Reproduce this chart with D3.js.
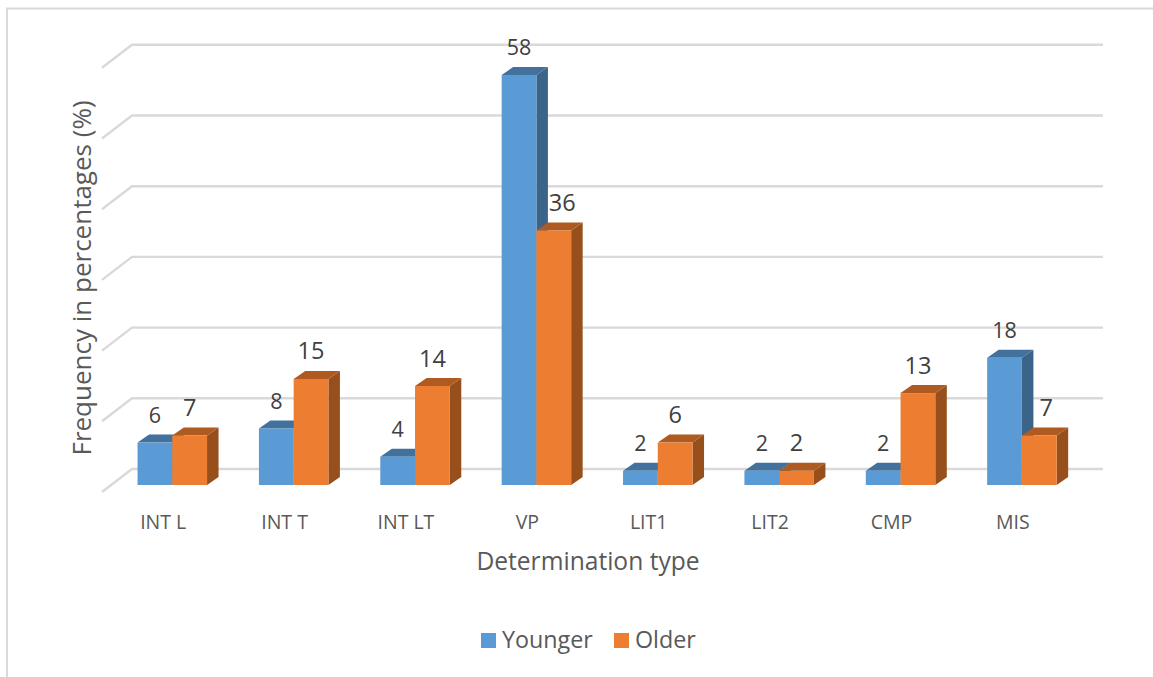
<!DOCTYPE html>
<html><head><meta charset="utf-8">
<script src="https://cdn.jsdelivr.net/npm/d3@7/dist/d3.min.js"></script>
<style>html,body{margin:0;padding:0;background:#fff}svg{display:block}text{font-family:"Open Sans",sans-serif}</style>
</head><body><svg id="c" width="1153" height="677"></svg>
<script>
const categories=["INT L","INT T","INT LT","VP","LIT1","LIT2","CMP","MIS"];
const younger=[6,8,4,58,2,2,2,18];
const older=[7,15,14,36,6,2,13,7];
const seriesNames=["Younger","Older"];
const seriesColors=["#5b9bd5","#ed7d31"];
const topColors=["#41719c","#ae5a21"];
const sideColors=["#3b6489","#974f1c"];
const gridTicks=[0,10,20,30,40,50,60];

const svg=d3.select("#c");
const floorDepth={dx:30,dy:-23}, barDepth={dx:11.5,dy:-8};
const x=d3.scaleBand().domain(categories).range([102,1073]).paddingInner(0).paddingOuter(0);
const barsW=69.5;
const sub=d3.scaleBand().domain([0,1]).range([0,barsW]);
const barShift=(x.bandwidth()-barsW)/2+9.6;
const y=d3.scaleLinear().domain([0,60]).range([492,67.8]);
const baseShift=-7;
const labelSize=[21.5,23.5];
const labelNudge={"VP|1":8.5,"MIS|1":7};

svg.append("path").attr("d","M7,677V8.5H1153").attr("fill","none").attr("stroke","#d9d9d9").attr("stroke-width",2);

const g=svg.append("g").attr("fill","none").attr("stroke","#d9d9d9").attr("stroke-width",2.4);
gridTicks.forEach(t=>{
  const yy=y(t);
  g.append("path").attr("d",`M102,${yy}L${102+floorDepth.dx},${yy+floorDepth.dy}H1103`);
});

const bars=svg.append("g");
categories.forEach((c,i)=>{
  [younger[i],older[i]].forEach((v,s)=>{
    const l=x(c)+barShift+sub(s), w=sub.bandwidth(), r=l+w;
    const b=y(0)+baseShift, t=y(v)+baseShift, dx=barDepth.dx, dy=barDepth.dy;
    bars.append("path").attr("fill",sideColors[s]).attr("d",`M${r},${t}L${r+dx},${t+dy}V${b+dy}L${r},${b}Z`);
    bars.append("path").attr("fill",topColors[s]).attr("d",`M${l},${t}L${l+dx},${t+dy}H${r+dx}L${r},${t}Z`);
    bars.append("rect").attr("x",l).attr("y",t).attr("width",w).attr("height",b-t).attr("fill",seriesColors[s]);
  });
});
const labels=svg.append("g").attr("text-anchor","middle").attr("fill","#404040");
categories.forEach((c,i)=>{
  [younger[i],older[i]].forEach((v,s)=>{
    labels.append("text").attr("font-size",labelSize[s])
      .attr("x",x(c)+barShift+sub(s)+sub.bandwidth()/2+(labelNudge[c+"|"+s]||0))
      .attr("y",y(v)+baseShift-19.5).text(v);
  });
});
const cats=svg.append("g").attr("text-anchor","middle").attr("fill","#595959").attr("font-size",19.5);
categories.forEach(c=>cats.append("text").attr("x",x(c)+x.bandwidth()/2+0.5).attr("y",529).text(c));
svg.append("text").attr("x",588).attr("y",570).attr("text-anchor","middle").attr("fill","#595959").attr("font-size",24.6).text("Determination type");
svg.append("text").attr("transform","translate(91,278) rotate(-90)").attr("text-anchor","middle").attr("fill","#595959").attr("font-size",26).text("Frequency in percentages (%)");
const legendX=[481,614];
seriesNames.forEach((n,i)=>{
  svg.append("rect").attr("x",legendX[i]).attr("y",633).attr("width",15).attr("height",15).attr("fill",seriesColors[i]);
  svg.append("text").attr("x",legendX[i]+21).attr("y",648).attr("fill","#595959").attr("font-size",23.3).text(n);
});
</script></body></html>
